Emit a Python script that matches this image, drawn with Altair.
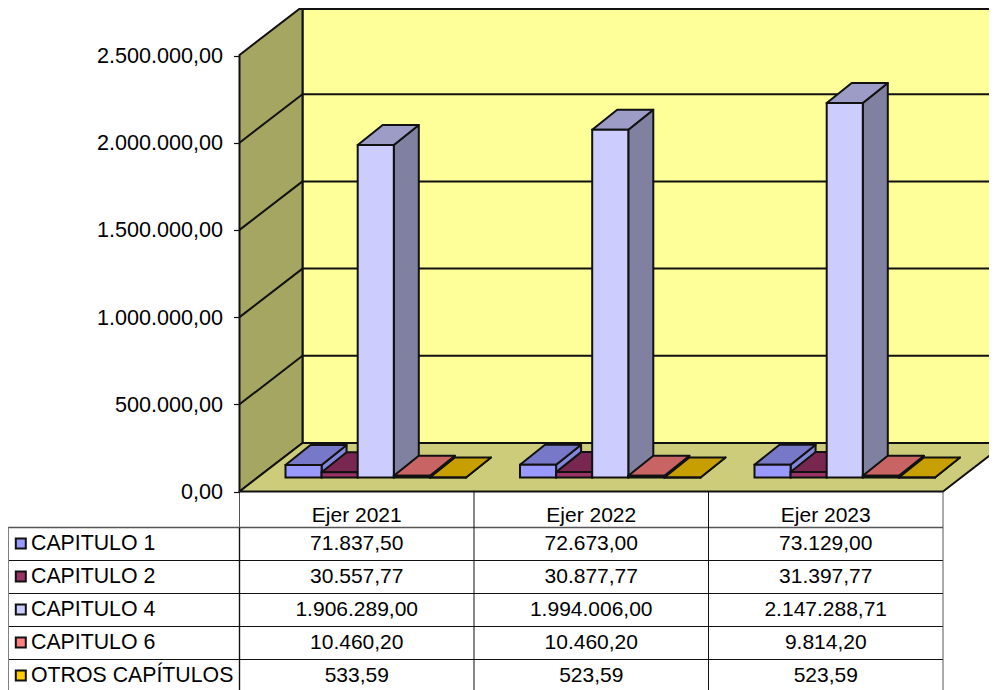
import altair as alt
import pandas as pd

# ---- data ----
years = ["Ejer 2021", "Ejer 2022", "Ejer 2023"]
series = ["CAPITULO 1", "CAPITULO 2", "CAPITULO 4", "CAPITULO 6", "OTROS CAPÍTULOS"]
cap1 = [71837.50, 72673.00, 73129.00]
cap2 = [30557.77, 30877.77, 31397.77]
cap4 = [1906289.00, 1994006.00, 2147288.71]
cap6 = [10460.20, 10460.20, 9814.20]
otros = [533.59, 523.59, 523.59]
ticks = [0, 500000, 1000000, 1500000, 2000000, 2500000]
front = ["#9999FF", "#993366", "#CCCCFF", "#FF8080", "#FFCC00"]
top = ["#7878C8", "#782850", "#9C9CC6", "#C86464", "#C89F00"]
side = ["#8484D8", "#602040", "#8080A0", "#A05050", "#A08000"]
table = [cap1, cap2, cap4, cap6, otros]

W, H = 981, 682
K = 2500000 / 436.0          # value units per pixel
FONT = "Liberation Sans"
INK = "#111111"
GREY = "#808080"


def px(screen_x):
    return screen_x - 8


def val(screen_y):
    return (491.5 - screen_y) * K


label_expr = ("replace(replace(replace(format(datum.value,',.2f'),/,/g,'X'),/[.]/g,','),/X/g,'.')")
y_axis = alt.Axis(values=ticks, offset=-231.5, domain=False, grid=False, tickSize=6,
                  tickColor=INK, tickWidth=1.2, labelPadding=11, labelFont=FONT,
                  labelFontSize=21.6, labelColor="#000000", labelExpr=label_expr,
                  labelOverlap=False, labelBound=False, labelFlush=False, title=None,
                  labelOffset=1, zindex=1)

xs = alt.Scale(domain=[0, W], range=[0, W], nice=False, zero=False)
ys = alt.Scale(domain=[val(8 + H), val(8)], range=[H, 0], nice=False, zero=False)
X = lambda f="x": alt.X(f"{f}:Q", scale=xs, axis=None, title=None)
Y = lambda f="y": alt.Y(f"{f}:Q", scale=ys, axis=y_axis, title=None, stack=None)


def rule(segs, color=INK, width=1.0):
    d = pd.DataFrame(segs, columns=["x", "x2", "y", "y2"])
    return alt.Chart(d).mark_rule(color=color, strokeWidth=width).encode(
        x=X(), x2="x2:Q", y=Y(), y2="y2:Q")


def v_poly(pts, fill, width=2):
    """Polygon with vertical end edges: (x, y low, y high)."""
    d = pd.DataFrame(pts, columns=["x", "y", "y2"])
    return alt.Chart(d).mark_area(fill=fill, stroke=INK, strokeWidth=width, opacity=1,
                                  orient="vertical", strokeJoin="round").encode(
        x=X(), y=Y(), y2="y2:Q")


def h_poly(pts, fill, width=2):
    """Polygon with horizontal end edges: (y, x left, x right)."""
    d = pd.DataFrame(pts, columns=["y", "x", "x2"])
    return alt.Chart(d).mark_area(fill=fill, stroke=INK, strokeWidth=width, opacity=1,
                                  orient="horizontal", strokeJoin="round").encode(
        y=Y(), x=X(), x2="x2:Q")


def text(rows, align="center", size=21):
    d = pd.DataFrame(rows, columns=["x", "y", "t"])
    return alt.Chart(d).mark_text(font=FONT, fontSize=size, color="#000000", align=align,
                                  baseline="middle").encode(x=X(), y=Y(), text="t:N")


def es(v):
    return f"{v:,.2f}".replace(",", "X").replace(".", ",").replace("X", ".")


layers = []

# walls and floor
DX, DY = 63, 48.5
L, R = 239.5, 943
layers.append(alt.Chart(pd.DataFrame({"x": [px(L + DX)], "x2": [W + 30], "y": [val(491.5 - DY)], "y2": [val(-40)]}))
              .mark_rect(fill="#FFFF99", stroke=INK, strokeWidth=2)
              .encode(x=X(), x2="x2:Q", y=Y(), y2="y2:Q"))
layers.append(v_poly([[px(L), val(491.5), val(55)],
                      [px(L + DX), val(491.5 - DY), val(55 - DY)]], "#A6A663"))
layers.append(h_poly([[val(491.5), px(L), px(R)],
                      [val(491.5 - DY), px(L + DX), px(R + DX)]], "#CCCC7A"))
layers.append(rule([[px(L), px(L + DX), t, t + DY * K] for t in ticks[1:5]], width=2))
layers.append(rule([[px(L + DX), W + 30, t + DY * K, t + DY * K] for t in ticks[1:5]], width=2))
# top edge of the back wall, kept inside the page
layers.append(rule([[px(L + DX - 3), W + 30, val(9), val(9)]], width=2))

# bars, painted left to right
COL = (R - L) / 3
BAR = 36.1
BASE = val(477.5)
BDX, BDY = 25, 20 * K
for g in range(3):
    x0 = L + g * COL + 46
    for s in range(5):
        a = x0 + s * BAR
        b = a + BAR
        v = BASE + table[s][g]
        layers.append(v_poly([[px(b), BASE, v], [px(b + BDX), BASE + BDY, v + BDY]], side[s]))
        layers.append(h_poly([[v, px(a), px(b)], [v + BDY, px(a + BDX), px(b + BDX)]], top[s]))
        layers.append(alt.Chart(pd.DataFrame({"x": [px(a)], "x2": [px(b)], "y": [BASE], "y2": [v]}))
                      .mark_rect(fill=front[s], stroke=INK, strokeWidth=2)
                      .encode(x=X(), x2="x2:Q", y=Y(), y2="y2:Q"))

# data table
rows_y = [527.5, 560.5, 593.5, 626.5, 659.5, 692.5]
cols_x = [L + i * COL for i in range(4)]
layers.append(rule([[px(8), px(R), val(rows_y[0]), val(rows_y[0])]], color="#555555", width=1.4))
layers.append(rule([[px(8), px(R), val(y), val(y)] for y in rows_y[1:]], width=1))
layers.append(rule([[px(8), px(8), val(rows_y[0]), val(700)]], color=GREY, width=2))
layers.append(rule([[px(L), px(L), val(rows_y[0]), val(700)]], width=1.4))
layers.append(rule([[px(L), px(L), val(491.5), val(rows_y[0])],
                    [px(R), px(R), val(491.5), val(700)]], color="#555555", width=1))
layers.append(rule([[px(c), px(c), val(491.5), val(700)] for c in cols_x[1:3]], width=1))

layers.append(text([[px((cols_x[i] + cols_x[i + 1]) / 2), val(515.5), years[i]] for i in range(3)]))
cells = []
for r in range(5):
    for c in range(3):
        cells.append([px((cols_x[c] + cols_x[c + 1]) / 2), val(rows_y[r] + 16), es(table[r][c])])
layers.append(text(cells))
layers.append(text([[px(31), val(rows_y[r] + 16), series[r]] for r in range(5)], align="left", size=21.3))
sw = pd.DataFrame({"x": [px(20.8)] * 5, "y": [val(rows_y[r] + 16) for r in range(5)], "c": front})
layers.append(alt.Chart(sw).mark_point(shape="square", filled=True, size=100, stroke=INK,
                                       strokeWidth=2, opacity=1, fillOpacity=1).encode(
    x=X(), y=Y(), fill=alt.Fill("c:N", scale=None)))

chart = alt.layer(*layers).properties(
    width=W, height=H, padding=0, autosize=alt.AutoSizeParams(type="none"),
    background="#FFFFFF"
).configure_view(stroke=None)

chart.save("out.html", embed_options={"renderer": "svg", "actions": False})
